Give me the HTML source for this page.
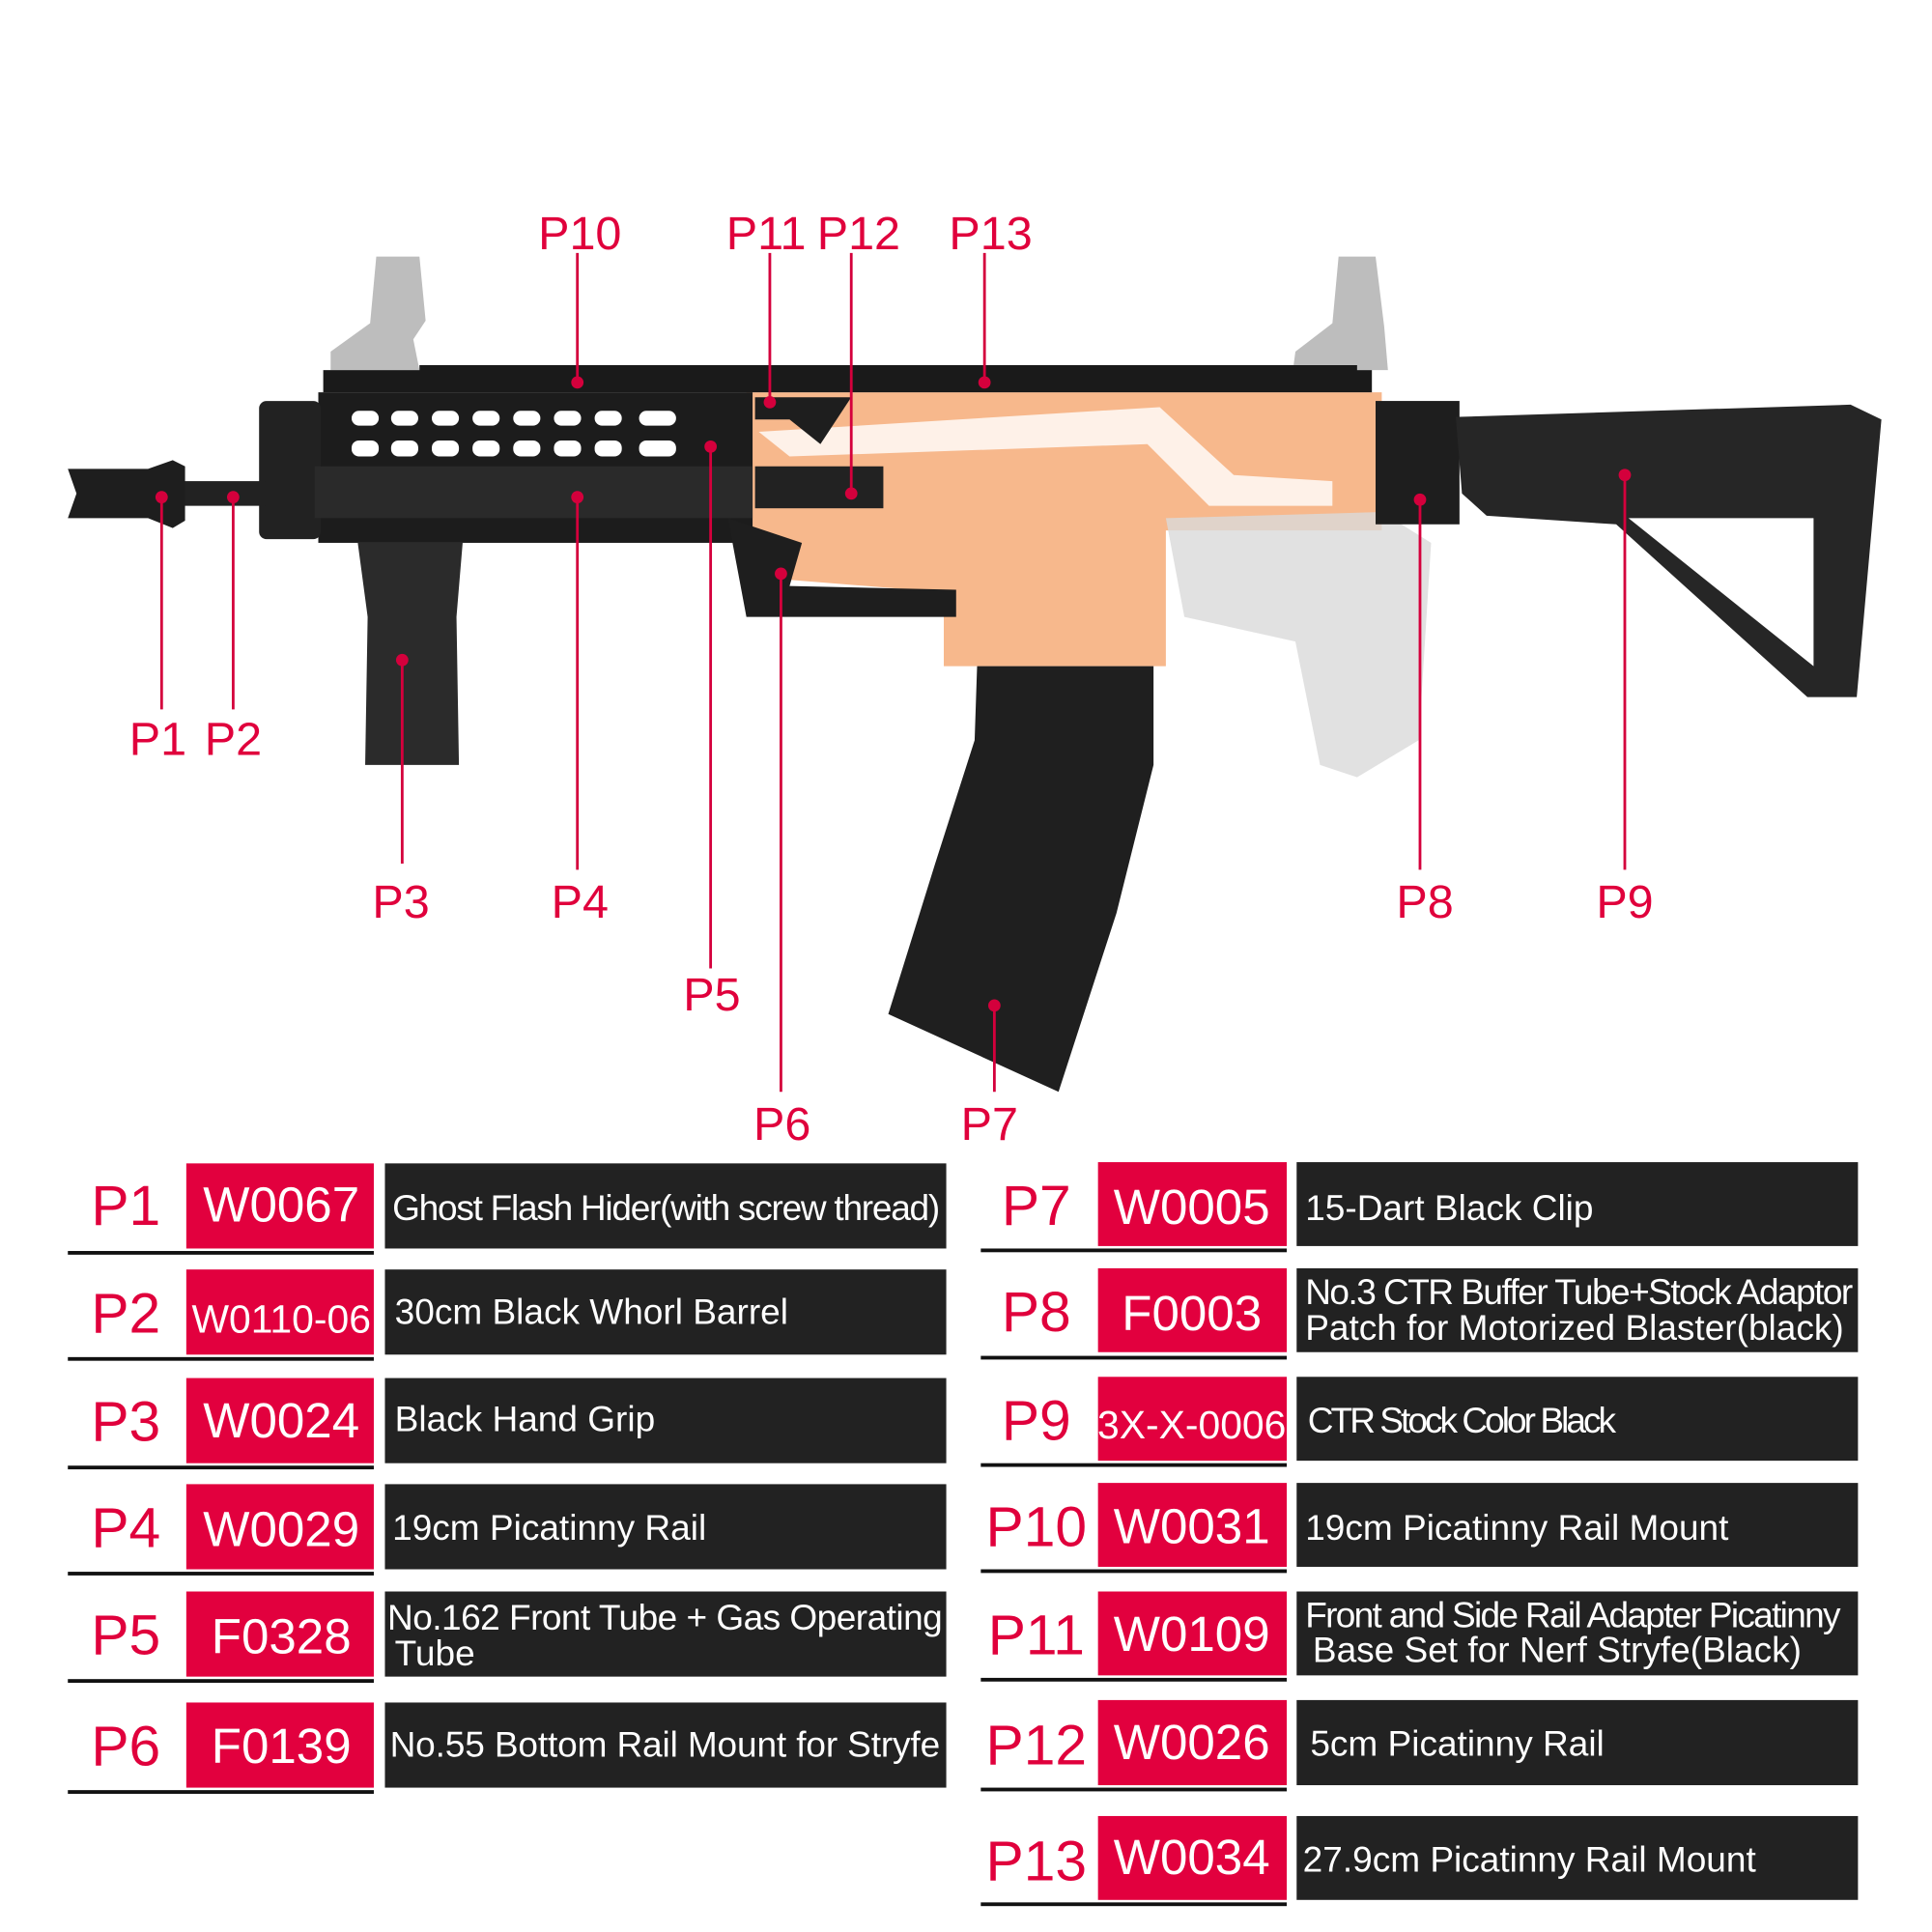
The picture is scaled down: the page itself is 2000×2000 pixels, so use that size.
<!DOCTYPE html>
<html><head><meta charset="utf-8"><style>
html,body{margin:0;padding:0;background:#fff}
svg{display:block}
.pl{font-family:"Liberation Sans Narrow","Liberation Sans",sans-serif;fill:#e0003c;font-size:38px}
.pt{font-family:"Liberation Sans Narrow","Liberation Sans",sans-serif;fill:#e0003c;font-size:46px}
.cd{font-family:"Liberation Sans Narrow","Liberation Sans",sans-serif;fill:#fff;font-size:40px;text-anchor:middle}
.ds{font-family:"Liberation Sans Narrow","Liberation Sans",sans-serif;fill:#fff;font-size:29px}
</style></head><body>
<svg width="2000" height="2000" viewBox="0 0 1566 1566" xmlns="http://www.w3.org/2000/svg">
<rect width="1566" height="1566" fill="#fff"/>
<!-- gun -->
<g>
<!-- sights -->
<path d="M305,208 L340,208 L345,260 L335,275 L340,300 L268,300 L268,285 L300,262 Z" fill="#bdbdbd"/>
<path d="M1085,208 L1115,208 L1122,265 L1125,300 L1048,300 L1050,285 L1080,262 Z" fill="#bdbdbd"/>
<!-- orange body -->
<path d="M605,318 L1120,318 L1120,430 L945,430 L945,540 L765,540 L765,480 L640,470 L605,420 Z" fill="#f7b88c"/>
<path d="M615,350 L940,330 L1000,385 L1080,390 L1080,410 L980,410 L930,360 L640,370 Z" fill="#fff" opacity=".8"/>
<!-- grey grip -->
<path d="M945,420 L1120,415 L1160,440 L1150,600 L1100,630 L1070,620 L1050,520 L960,500 Z" fill="#d9d9d9" opacity=".8"/>
<!-- top rail -->
<rect x="262" y="300" width="850" height="18" fill="#1a1a1a"/>
<g fill="#1a1a1a">
<path d="M340,296 h760 v6 h-760z"/>
</g>
<!-- handguard -->
<rect x="258" y="318" width="352" height="122" fill="#1c1c1c"/>
<rect x="210" y="325" width="50" height="112" fill="#222" rx="6"/>
<g fill="#fff">
<rect x="285" y="333" width="22" height="12" rx="6"/><rect x="317" y="333" width="22" height="12" rx="6"/><rect x="350" y="333" width="22" height="12" rx="6"/><rect x="383" y="333" width="22" height="12" rx="6"/><rect x="416" y="333" width="22" height="12" rx="6"/><rect x="449" y="333" width="22" height="12" rx="6"/><rect x="482" y="333" width="22" height="12" rx="6"/><rect x="518" y="333" width="30" height="12" rx="6"/>
<rect x="285" y="357" width="22" height="13" rx="6"/><rect x="317" y="357" width="22" height="13" rx="6"/><rect x="350" y="357" width="22" height="13" rx="6"/><rect x="383" y="357" width="22" height="13" rx="6"/><rect x="416" y="357" width="22" height="13" rx="6"/><rect x="449" y="357" width="22" height="13" rx="6"/><rect x="482" y="357" width="22" height="13" rx="6"/><rect x="518" y="357" width="30" height="13" rx="6"/>
</g>
<rect x="255" y="378" width="355" height="42" fill="#2a2a2a"/>
<rect x="612" y="378" width="104" height="34" fill="#222"/>
<!-- barrel & hider -->
<rect x="140" y="390" width="75" height="20" fill="#222"/>
<path d="M55,380 L120,380 L140,373 L150,378 L150,422 L140,428 L120,420 L55,420 L62,400 Z" fill="#1e1e1e"/>
<!-- foregrip -->
<path d="M290,440 L375,440 L370,500 L372,620 L296,620 L298,500 Z" fill="#2b2b2b"/>
<!-- lower mount -->
<path d="M590,420 L650,440 L640,475 L775,478 L775,500 L605,500 Z" fill="#1e1e1e"/>
<path d="M612,322 L690,322 L665,360 L640,340 L612,340 Z" fill="#1e1e1e"/>
<!-- magazine -->
<path d="M792,540 L935,540 L935,620 L905,740 L858,885 L720,822 L758,700 L790,600 Z" fill="#1f1f1f"/>
<!-- buffer -->
<rect x="1115" y="325" width="68" height="100" fill="#1e1e1e"/>
<!-- stock -->
<path d="M1180,338 L1500,328 L1525,340 L1505,565 L1465,565 L1310,425 L1205,418 L1185,400 Z" fill="#262626"/>
<path d="M1320,420 L1470,420 L1470,540 Z" fill="#fff"/>
</g>
<!-- leaders -->
<g stroke="#d4003c" stroke-width="2.2" fill="none">
<path d="M468,205V310M624,205V326M690,205V400M798,205V310M131,403V575M189,403V575M326,535V700M468,403V705M576,362V785M633,465V885M806,815V885M1151,405V705M1317,385V705"/>
</g>
<g fill="#d4003c">
<circle cx="468" cy="310" r="5"/><circle cx="624" cy="326" r="5"/><circle cx="690" cy="400" r="5"/><circle cx="798" cy="310" r="5"/><circle cx="131" cy="403" r="5"/><circle cx="189" cy="403" r="5"/><circle cx="326" cy="535" r="5"/><circle cx="468" cy="403" r="5"/><circle cx="576" cy="362" r="5"/><circle cx="633" cy="465" r="5"/><circle cx="806" cy="815" r="5"/><circle cx="1151" cy="405" r="5"/><circle cx="1317" cy="385" r="5"/>
</g>
<g class="pl" text-anchor="middle">
<text x="470" y="202">P10</text><text x="621" y="202">P11</text><text x="696" y="202">P12</text><text x="803" y="202">P13</text>
<text x="128" y="612">P1</text><text x="189" y="612">P2</text><text x="325" y="744">P3</text><text x="470" y="744">P4</text>
<text x="577" y="819">P5</text><text x="634" y="924">P6</text><text x="802" y="924">P7</text><text x="1155" y="744">P8</text><text x="1317" y="744">P9</text>
</g>
<!-- left table -->
<g>
<rect x="151" y="943" width="152" height="69" fill="#e2003e"/><rect x="312" y="943" width="455" height="69" fill="#222"/><rect x="55" y="1014" width="248" height="3" fill="#111"/>
<rect x="151" y="1029" width="152" height="69" fill="#e2003e"/><rect x="312" y="1029" width="455" height="69" fill="#222"/><rect x="55" y="1100" width="248" height="3" fill="#111"/>
<rect x="151" y="1117" width="152" height="69" fill="#e2003e"/><rect x="312" y="1117" width="455" height="69" fill="#222"/><rect x="55" y="1188" width="248" height="3" fill="#111"/>
<rect x="151" y="1203" width="152" height="69" fill="#e2003e"/><rect x="312" y="1203" width="455" height="69" fill="#222"/><rect x="55" y="1274" width="248" height="3" fill="#111"/>
<rect x="151" y="1290" width="152" height="69" fill="#e2003e"/><rect x="312" y="1290" width="455" height="69" fill="#222"/><rect x="55" y="1361" width="248" height="3" fill="#111"/>
<rect x="151" y="1380" width="152" height="69" fill="#e2003e"/><rect x="312" y="1380" width="455" height="69" fill="#222"/><rect x="55" y="1451" width="248" height="3" fill="#111"/>
</g>
<g class="pt" text-anchor="middle">
<text x="102" y="993">P1</text><text x="102" y="1080">P2</text><text x="102" y="1168">P3</text><text x="102" y="1254">P4</text><text x="102" y="1341">P5</text><text x="102" y="1431">P6</text>
</g>
<g class="cd">
<text x="228" y="990">W0067</text><text x="228" y="1080" style="font-size:32px">W0110-06</text><text x="228" y="1165">W0024</text><text x="228" y="1253">W0029</text><text x="228" y="1340">F0328</text><text x="228" y="1429">F0139</text>
</g>
<g class="ds">
<text x="318" y="989" textLength="444">Ghost Flash Hider(with screw thread)</text>
<text x="320" y="1073">30cm Black Whorl Barrel</text>
<text x="320" y="1160">Black Hand Grip</text>
<text x="318" y="1248">19cm Picatinny Rail</text>
<text x="314" y="1321" textLength="450">No.162 Front Tube + Gas Operating</text>
<text x="320" y="1350">Tube</text>
<text x="316" y="1424" textLength="446">No.55 Bottom Rail Mount for Stryfe</text>
</g>
<!-- right table -->
<g>
<rect x="890" y="942" width="153" height="68" fill="#e2003e"/><rect x="1051" y="942" width="455" height="68" fill="#222"/><rect x="795" y="1012" width="248" height="3" fill="#111"/>
<rect x="890" y="1028" width="153" height="68" fill="#e2003e"/><rect x="1051" y="1028" width="455" height="68" fill="#222"/><rect x="795" y="1099" width="248" height="3" fill="#111"/>
<rect x="890" y="1116" width="153" height="68" fill="#e2003e"/><rect x="1051" y="1116" width="455" height="68" fill="#222"/><rect x="795" y="1186" width="248" height="3" fill="#111"/>
<rect x="890" y="1202" width="153" height="68" fill="#e2003e"/><rect x="1051" y="1202" width="455" height="68" fill="#222"/><rect x="795" y="1272" width="248" height="3" fill="#111"/>
<rect x="890" y="1290" width="153" height="68" fill="#e2003e"/><rect x="1051" y="1290" width="455" height="68" fill="#222"/><rect x="795" y="1360" width="248" height="3" fill="#111"/>
<rect x="890" y="1378" width="153" height="69" fill="#e2003e"/><rect x="1051" y="1378" width="455" height="69" fill="#222"/><rect x="795" y="1449" width="248" height="3" fill="#111"/>
<rect x="890" y="1472" width="153" height="68" fill="#e2003e"/><rect x="1051" y="1472" width="455" height="68" fill="#222"/><rect x="795" y="1542" width="248" height="3" fill="#111"/>
</g>
<g class="pt" text-anchor="middle">
<text x="840" y="993">P7</text><text x="840" y="1079">P8</text><text x="840" y="1167">P9</text><text x="840" y="1253">P10</text><text x="840" y="1341">P11</text><text x="840" y="1430">P12</text><text x="840" y="1524">P13</text>
</g>
<g class="cd">
<text x="966" y="992">W0005</text><text x="966" y="1078">F0003</text><text x="966" y="1166" style="font-size:32px">3X-X-0006</text><text x="966" y="1251">W0031</text><text x="966" y="1338">W0109</text><text x="966" y="1426">W0026</text><text x="966" y="1519">W0034</text>
</g>
<g class="ds">
<text x="1058" y="989">15-Dart Black Clip</text>
<text x="1058" y="1057" textLength="444">No.3 CTR Buffer Tube+Stock Adaptor</text>
<text x="1058" y="1086">Patch for Motorized Blaster(black)</text>
<text x="1060" y="1161" textLength="250">CTR Stock Color Black</text>
<text x="1058" y="1248">19cm Picatinny Rail Mount</text>
<text x="1058" y="1319" textLength="434">Front and Side Rail Adapter Picatinny</text>
<text x="1064" y="1347">Base Set  for Nerf Stryfe(Black)</text>
<text x="1062" y="1423">5cm Picatinny Rail</text>
<text x="1056" y="1517">27.9cm Picatinny Rail Mount</text>
</g>
</svg>
</body></html>
